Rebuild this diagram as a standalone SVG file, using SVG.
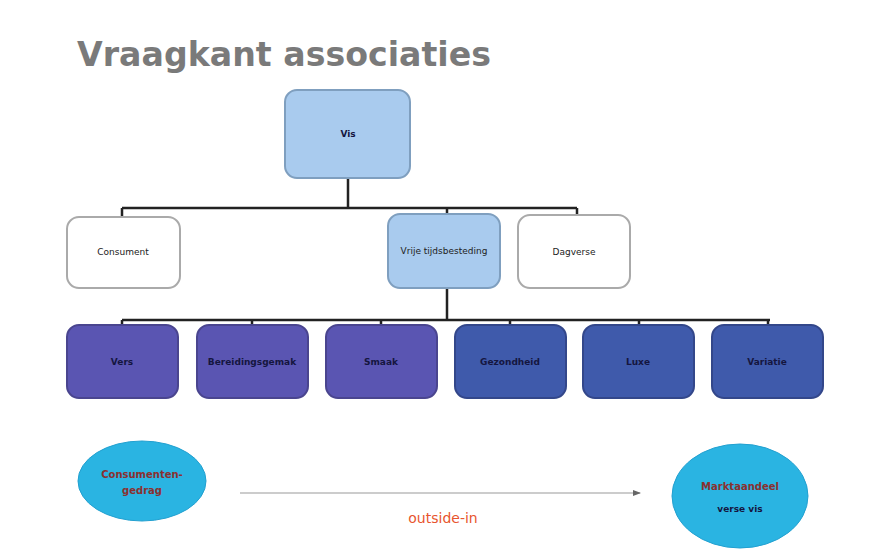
<svg xmlns="http://www.w3.org/2000/svg" width="871" height="555" viewBox="0 0 871 555">
<defs>
<style>
.t{font-family:"DejaVu Sans",Verdana,sans-serif;font-size:9px;fill:#222;text-anchor:middle;dominant-baseline:middle}
.d{fill:#15163f;font-weight:bold}
.r{fill:#8a3030;font-weight:bold;font-size:10px}
.lb{fill:#a9cbee;stroke:#7f9fbf;stroke-width:2}
.wh{fill:#fff;stroke:#aaa;stroke-width:2}
.pu{fill:#5a55b2;stroke:#4a458f;stroke-width:2}
.bl{fill:#3f5aab;stroke:#33478a;stroke-width:2}
.ov{fill:#2ab4e2;stroke:#22a0d0;stroke-width:1}
.c{stroke:#222;stroke-width:2.5;fill:none}
</style>
<marker id="ah" markerWidth="8" markerHeight="6" refX="7" refY="3" orient="auto"><path d="M0,0 L8,3 L0,6 z" fill="#666"/></marker>
</defs>
<rect width="871" height="555" fill="#fff"/>
<text x="77" y="66" font-family="'DejaVu Sans',Verdana,sans-serif" font-weight="bold" font-size="33" fill="#7a7a7a" textLength="414" lengthAdjust="spacingAndGlyphs">Vraagkant associaties</text>
<g id="connectors">
<path class="c" d="M348,178 V208 M122,208 H577 M122,208 V217 M447,208 V214 M577,208 V215"/>
<path class="c" d="M447,288 V320 M122,320 H770 M122,320 V325 M252,320 V325 M381,320 V325 M510,320 V325 M639,320 V325 M768,320 V325"/>
<line x1="240" y1="493" x2="640" y2="493" stroke="#999" stroke-width="1" marker-end="url(#ah)"/>
<text x="443" y="523" font-family="'DejaVu Sans',Verdana,sans-serif" font-size="14" fill="#e8552e" text-anchor="middle">outside-in</text>
</g>
<g id="n-vis"><rect class="lb" x="285" y="90" width="125" height="88" rx="12"/><text class="t d" x="348" y="134">Vis</text></g>
<g id="n-consument"><rect class="wh" x="67" y="217" width="113" height="71" rx="12"/><text class="t" x="123" y="252">Consument</text></g>
<g id="n-vrijetijd"><rect class="lb" x="388" y="214" width="112" height="74" rx="12"/><text class="t" x="444" y="251">Vrije tijdsbesteding</text></g>
<g id="n-dagverse"><rect class="wh" x="518" y="215" width="112" height="73" rx="12"/><text class="t" x="574" y="252">Dagverse</text></g>
<g id="n-vers"><rect class="pu" x="67" y="325" width="111" height="73" rx="12"/><text class="t d" x="122" y="362">Vers</text></g>
<g id="n-gemak"><rect class="pu" x="197" y="325" width="111" height="73" rx="12"/><text class="t d" x="252" y="362">Bereidingsgemak</text></g>
<g id="n-smaak"><rect class="pu" x="326" y="325" width="111" height="73" rx="12"/><text class="t d" x="381" y="362">Smaak</text></g>
<g id="n-gezond"><rect class="bl" x="455" y="325" width="111" height="73" rx="12"/><text class="t d" x="510" y="362">Gezondheid</text></g>
<g id="n-luxe"><rect class="bl" x="583" y="325" width="111" height="73" rx="12"/><text class="t d" x="638" y="362">Luxe</text></g>
<g id="n-variatie"><rect class="bl" x="712" y="325" width="111" height="73" rx="12"/><text class="t d" x="767" y="362">Variatie</text></g>
<g id="n-gedrag"><ellipse class="ov" cx="142" cy="481" rx="64" ry="40"/><text class="t r" x="142" y="475">Consumenten-</text><text class="t r" x="142" y="491">gedrag</text></g>
<g id="n-markt"><ellipse class="ov" cx="740" cy="496" rx="68" ry="52"/><text class="t r" x="740" y="487">Marktaandeel</text><text class="t d" x="740" y="509">verse vis</text></g>
</svg>
